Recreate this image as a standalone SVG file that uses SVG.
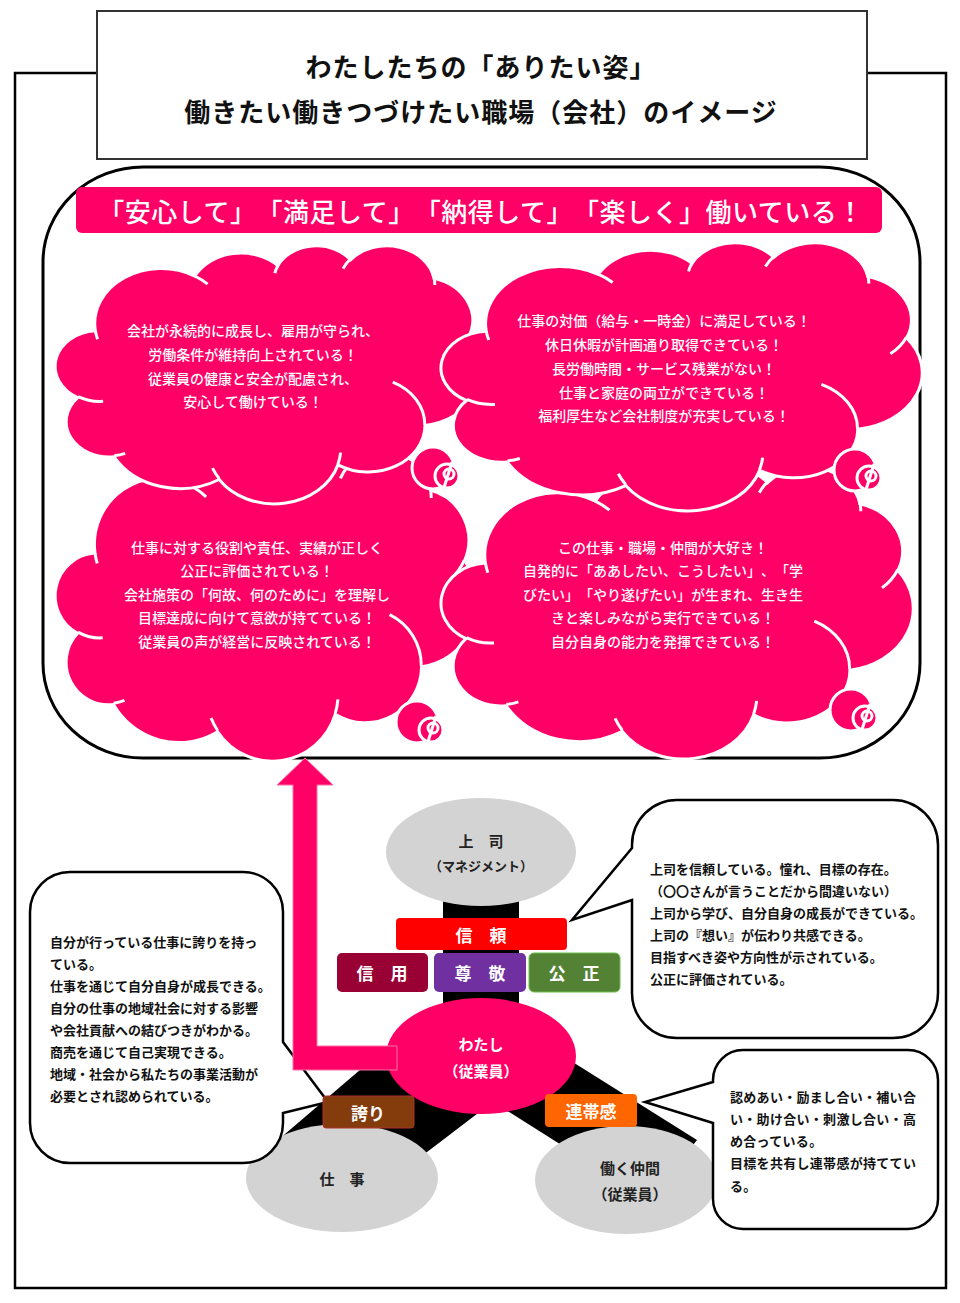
<svg xmlns="http://www.w3.org/2000/svg" xmlns:xlink="http://www.w3.org/1999/xlink" width="960" height="1303" viewBox="0 0 960 1303">
<style>
text{font-family:"Noto Sans CJK JP","Noto Sans CJK SC",sans-serif;text-spacing-trim:space-all}
.ttl{font-size:26px;font-weight:700;fill:#111;letter-spacing:1px}
.ban{font-size:26px;font-weight:500;fill:#fff;letter-spacing:0.5px}
.ct{font-size:14px;font-weight:500;fill:#fff}
.bt{font-size:13px;font-weight:700;fill:#111}
.lb{font-size:17px;font-weight:700;fill:#fff}
.el{font-size:15px;font-weight:700;fill:#222}
.cl{fill:#FF0066;stroke:#fff;stroke-width:3}
.ci{fill:none;stroke:#fff;stroke-width:3}
.tl{fill:#FF0066;stroke:#fff;stroke-width:3}
.bub{fill:#fff;stroke:#000;stroke-width:2.5;stroke-linejoin:miter}
.gray{fill:#D3D3D3}
</style>
<defs>
<path id="cloud" vector-effect="non-scaling-stroke" d="M9.03,33.26 A15.63 21.27 0 0 1 32.42,12.04 A12.34 16.82 0 0 1 51.98,7.95 A10.10 13.76 0 0 1 69.06,5.74 A11.24 15.27 0 0 1 88.70,12.90 A12.35 16.84 0 0 1 96.80,35.78 A15.68 21.34 0 0 1 86.59,69.91 A13.39 18.21 0 0 1 66.10,85.22 A15.63 21.33 0 0 1 38.15,90.89 A17.87 24.41 0 0 1 13.43,82.10 A10.09 13.70 0 0 1 4.89,59.13 A10.06 13.76 0 0 1 9.03,33.26 Z"/>
<path id="cloudIn" vector-effect="non-scaling-stroke" d="M10.86,60.59 A10.06 13.76 0 0 1 5.00,58.75 M16.04,80.78 A10.09 13.70 0 0 1 13.47,81.67 M38.14,90.49 A15.63 21.33 0 0 1 36.60,86.46 M66.73,80.44 A15.63 21.33 0 0 1 66.11,84.86 M79.00,53.13 A13.39 18.21 0 0 1 86.53,69.65 M96.75,35.54 A12.35 16.84 0 0 1 93.40,41.74 M88.71,12.56 A11.24 15.27 0 0 1 88.89,15.49 M67.31,9.15 A11.24 15.27 0 0 1 69.03,5.42 M51.25,10.93 A10.10 13.76 0 0 1 52.08,7.71 M32.41,12.02 A15.63 21.27 0 0 1 35.42,15.14 M9.55,36.55 A15.63 21.27 0 0 1 9.03,33.26"/>
<g id="tail" class="tl">
<circle cx="0" cy="0" r="21"/>
<circle cx="14" cy="8" r="12"/>
<circle cx="16" cy="6" r="5"/>
<line x1="19" y1="-6" x2="10" y2="23"/>
</g>
</defs>

<rect id="frame" x="15" y="73" width="931" height="1215" fill="#fff" stroke="#000" stroke-width="2.5"/>

<g id="title">
<rect x="97" y="11" width="770" height="148" fill="#fff" stroke="#333" stroke-width="2"/>
<text class="ttl" x="481" y="65" text-anchor="middle" dominant-baseline="central">わたしたちの「ありたい姿」</text>
<text class="ttl" x="481" y="110" text-anchor="middle" dominant-baseline="central">働きたい働きつづけたい職場（会社）のイメージ</text>
</g>

<rect id="panel" x="43" y="167" width="877" height="591" rx="100" ry="95" fill="none" stroke="#000" stroke-width="3"/>

<g id="banner">
<rect x="76" y="187" width="806" height="46" rx="6" fill="#FF0066"/>
<text class="ban" x="481" y="210" text-anchor="middle" dominant-baseline="central">「安心して」「満足して」「納得して」「楽しく」働いている！</text>
</g>

<g id="cloud3">
<g transform="translate(57,450) scale(4.21,3.1)"><use href="#cloud" class="cl"/><use href="#cloudIn" class="ci"/></g>
<use href="#tail" transform="translate(417,722)"/>
<g class="ct" text-anchor="middle" dominant-baseline="central">
<text x="257" y="547">仕事に対する役割や責任、実績が正しく</text>
<text x="257" y="570">公正に評価されている！</text>
<text x="257" y="594">会社施策の「何故、何のために」を理解し</text>
<text x="257" y="617">目標達成に向けて意欲が持てている！</text>
<text x="257" y="641">従業員の声が経営に反映されている！</text>
</g>
</g>

<g id="cloud4">
<g transform="translate(443,466) scale(4.70,2.92)"><use href="#cloud" class="cl"/><use href="#cloudIn" class="ci"/></g>
<use href="#tail" transform="translate(851,710)"/>
<g class="ct" text-anchor="middle" dominant-baseline="central">
<text x="663" y="547">この仕事・職場・仲間が大好き！</text>
<text x="663" y="570">自発的に「ああしたい、こうしたい」、「学</text>
<text x="663" y="594">びたい」「やり遂げたい」が生まれ、生き生</text>
<text x="663" y="617">きと楽しみながら実行できている！</text>
<text x="663" y="641">自分自身の能力を発揮できている！</text>
</g>
</g>

<g id="cloud1">
<g transform="translate(57,245) scale(4.25,2.58)"><use href="#cloud" class="cl"/><use href="#cloudIn" class="ci"/></g>
<use href="#tail" transform="translate(433,468)"/>
<g class="ct" text-anchor="middle" dominant-baseline="central">
<text x="253" y="330">会社が永続的に成長し、雇用が守られ、</text>
<text x="253" y="354">労働条件が維持向上されている！</text>
<text x="253" y="378">従業員の健康と安全が配慮され、</text>
<text x="253" y="401">安心して働けている！</text>
</g>
</g>

<g id="cloud2">
<g transform="translate(443,242) scale(4.79,2.68)"><use href="#cloud" class="cl"/><use href="#cloudIn" class="ci"/></g>
<use href="#tail" transform="translate(855,470)"/>
<g class="ct" text-anchor="middle" dominant-baseline="central">
<text x="664" y="320">仕事の対価（給与・一時金）に満足している！</text>
<text x="664" y="344">休日休暇が計画通り取得できている！</text>
<text x="664" y="368">長労働時間・サービス残業がない！</text>
<text x="664" y="392">仕事と家庭の両立ができている！</text>
<text x="664" y="415">福利厚生など会社制度が充実している！</text>
</g>
</g>

<g id="connectors-back" fill="#000">
<rect x="443" y="895" width="76" height="120"/>
<polygon points="395,1040 278,1140 410,1165 515,1085"/>
<polygon points="520,1029 697,1140 650,1201 490,1100"/>
</g>

<g id="boss">
<ellipse class="gray" cx="481" cy="852" rx="95" ry="54"/>
<text class="el" x="481" y="840" text-anchor="middle" dominant-baseline="central">上　司</text>
<text class="el" x="481" y="865" text-anchor="middle" dominant-baseline="central" style="font-size:13px">（マネジメント）</text>
</g>

<g id="work">
<ellipse class="gray" cx="342" cy="1178" rx="96" ry="54"/>
<text class="el" x="342" y="1178" text-anchor="middle" dominant-baseline="central">仕　事</text>
</g>

<g id="colleagues">
<ellipse class="gray" cx="626" cy="1180" rx="91" ry="54"/>
<text class="el" x="630" y="1167" text-anchor="middle" dominant-baseline="central">働く仲間</text>
<text class="el" x="630" y="1193" text-anchor="middle" dominant-baseline="central">（従業員）</text>
</g>

<g id="me">
<ellipse cx="481" cy="1056" rx="95" ry="58" fill="#FF0066"/>
<text class="el" x="481" y="1043" text-anchor="middle" dominant-baseline="central" style="fill:#fff">わたし</text>
<text class="el" x="481" y="1070" text-anchor="middle" dominant-baseline="central" style="fill:#fff">（従業員）</text>
</g>

<g id="bubble-boss">
<path class="bub" d="M677,800 H893 A45 45 0 0 1 938,845 V993 A45 45 0 0 1 893,1038 H677 A45 45 0 0 1 632,993 V900 L572,920 L632,848 V845 A45 45 0 0 1 677,800 Z"/>
<g class="bt">
<text x="650" y="868" dominant-baseline="central">上司を信頼している。憧れ、目標の存在。</text>
<text x="650" y="890" dominant-baseline="central">（〇〇さんが言うことだから間違いない）</text>
<text x="650" y="912" dominant-baseline="central">上司から学び、自分自身の成長ができている。</text>
<text x="650" y="934" dominant-baseline="central">上司の『想い』が伝わり共感できる。</text>
<text x="650" y="956" dominant-baseline="central">目指すべき姿や方向性が示されている。</text>
<text x="650" y="978" dominant-baseline="central">公正に評価されている。</text>
</g>
</g>

<g id="bubble-work">
<path class="bub" d="M70,872 H243 A40 40 0 0 1 283,912 V1042 L328,1102 L283,1113 V1123 A40 40 0 0 1 243,1163 H70 A40 40 0 0 1 30,1123 V912 A40 40 0 0 1 70,872 Z"/>
<g class="bt">
<text x="50" y="941" dominant-baseline="central">自分が行っている仕事に誇りを持っ</text>
<text x="50" y="963" dominant-baseline="central">ている。</text>
<text x="50" y="985" dominant-baseline="central">仕事を通じて自分自身が成長できる。</text>
<text x="50" y="1007" dominant-baseline="central">自分の仕事の地域社会に対する影響</text>
<text x="50" y="1029" dominant-baseline="central">や会社貢献への結びつきがわかる。</text>
<text x="50" y="1051" dominant-baseline="central">商売を通じて自己実現できる。</text>
<text x="50" y="1073" dominant-baseline="central">地域・社会から私たちの事業活動が</text>
<text x="50" y="1095" dominant-baseline="central">必要とされ認められている。</text>
</g>
</g>

<g id="bubble-colleagues">
<path class="bub" d="M743,1050 H908 A30 30 0 0 1 938,1080 V1199 A30 30 0 0 1 908,1229 H743 A30 30 0 0 1 713,1199 V1123 L645,1102 L713,1082 V1080 A30 30 0 0 1 743,1050 Z"/>
<g class="bt" style="letter-spacing:0.3px">
<text x="730" y="1096" dominant-baseline="central">認めあい・励まし合い・補い合</text>
<text x="730" y="1118" dominant-baseline="central">い・助け合い・刺激し合い・高</text>
<text x="730" y="1140" dominant-baseline="central">め合っている。</text>
<text x="730" y="1162" dominant-baseline="central">目標を共有し連帯感が持ててい</text>
<text x="730" y="1185" dominant-baseline="central">る。</text>
</g>
</g>

<g id="label-trust">
<rect x="396" y="918" width="171" height="32" rx="4" fill="#FF0000"/>
<text class="lb" x="481" y="934" text-anchor="middle" dominant-baseline="central">信　頼</text>
</g>
<g id="label-credit">
<rect x="337" y="953" width="91" height="39" rx="5" fill="#990033"/>
<text class="lb" x="382" y="972" text-anchor="middle" dominant-baseline="central">信　用</text>
</g>
<g id="label-respect">
<rect x="434" y="953" width="92" height="39" rx="5" fill="#7030A0"/>
<text class="lb" x="480" y="972" text-anchor="middle" dominant-baseline="central">尊　敬</text>
</g>
<g id="label-fair">
<rect x="529" y="953" width="91" height="39" rx="5" fill="#548235" stroke="#6CC04A" stroke-width="1"/>
<text class="lb" x="574" y="972" text-anchor="middle" dominant-baseline="central">公　正</text>
</g>
<g id="label-pride">
<rect x="323" y="1096" width="91" height="32" rx="3" fill="#843C0C" stroke="#B03030" stroke-width="1"/>
<text class="lb" x="368" y="1112" text-anchor="middle" dominant-baseline="central">誇り</text>
</g>
<g id="label-solidarity">
<rect x="545" y="1094" width="92" height="33" rx="4" fill="#FF6600"/>
<text class="lb" x="591" y="1110" text-anchor="middle" dominant-baseline="central">連帯感</text>
</g>

<g id="connectors">
<polygon points="277,785 305,758 333,785 317,785 317,1046 397,1046 397,1070 293,1070 293,785" fill="#FF0066" stroke="#FF6FA8" stroke-width="1"/>
</g>
</svg>
